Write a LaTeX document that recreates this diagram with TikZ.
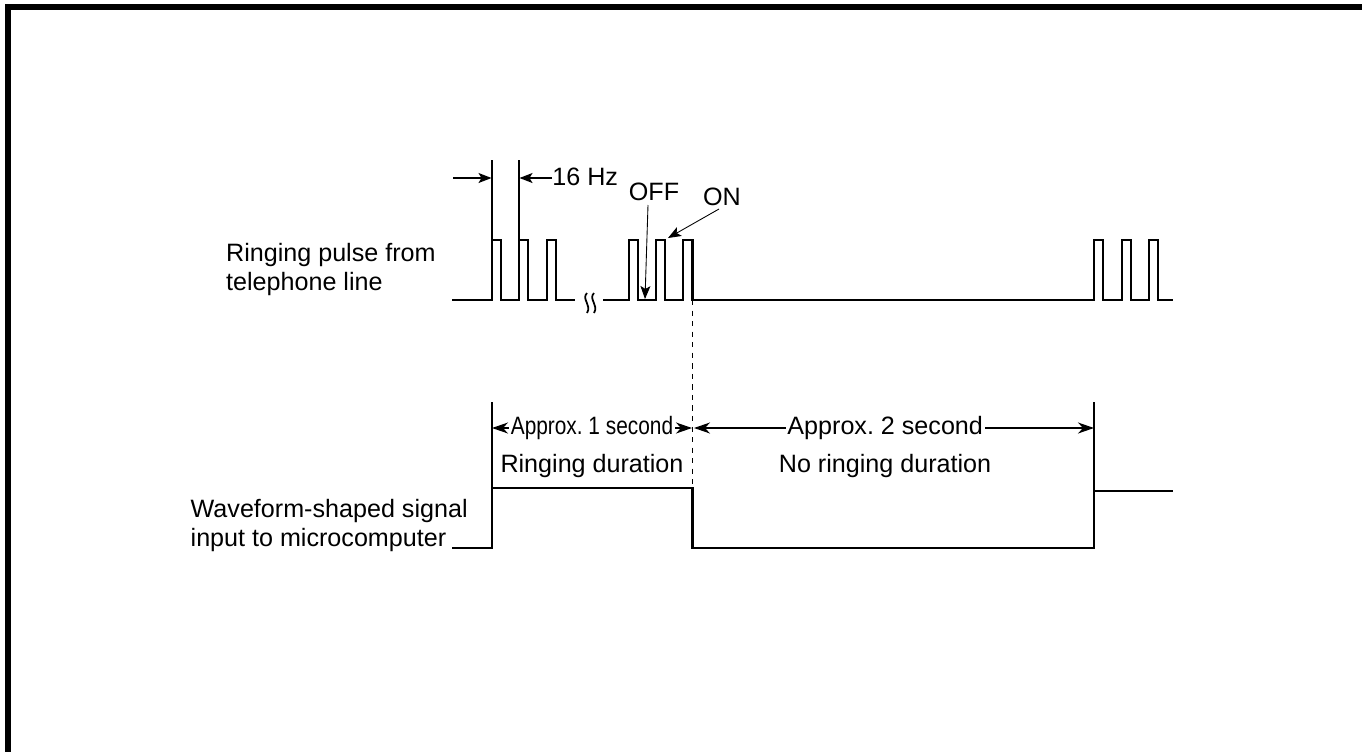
\documentclass[tikz,border=0pt]{standalone}
\usepackage{fontspec}
\setmainfont{Liberation Sans}
\usepackage{graphicx}
\usetikzlibrary{arrows.meta}
\frenchspacing

\begin{document}
\begin{tikzpicture}[x=0.02cm, y=-0.02cm,
  lbl/.style={inner sep=0pt, font=\fontsize{14.3}{16.5}\selectfont},
  wave/.style={line width=1.3pt},
  thin/.style={line width=0.6pt},
  arr/.style={-{Stealth[length=0.26cm, width=0.2cm, inset=0.06cm]}, line width=0.7pt},
  dim/.style={{Stealth[length=0.32cm, width=0.22cm, inset=0.1cm]}-{Stealth[length=0.32cm, width=0.22cm, inset=0.1cm]}, line width=0.8pt}
]
  \useasboundingbox (0,0) rectangle (1362,751);
  % frame
  \draw[line width=3.4pt] (8,760) -- (8,7) -- (1370,7);

  % labels on the left
  \node[lbl, align=left, anchor=base east] (ring) at (436,290) {Ringing pulse from\\telephone line};
  \node[lbl, align=left, anchor=base east] (wave) at (468,546) {Waveform-shaped signal\\input to microcomputer};

  % ringing pulse
  \draw[wave] (452,300) -| (492,240) -| (501,300) -| (519,240) -| (528,300) -| (547,240) -| (556,300) -- (575,300);
  \draw[wave] (603,300) -| (629,240) -| (638,300) -| (656,240) -| (665,300) -| (683,240) -| (692.5,300)
    -| (1094,240) -| (1103,300) -| (1122,240) -| (1131,300) -| (1149,240) -| (1158,300) -- (1173,300);
  % break mark
  \draw[line width=1pt] (587,293) .. controls (581,299) and (592,305) .. (587,313);
  \draw[line width=1pt] (594,293) .. controls (588,299) and (599,305) .. (594,313);

  % 16 Hz
  \coordinate (p1) at (492,240);
  \coordinate (p2) at (519,240);
  \draw[thin] (492,160) -- (p1);
  \draw[thin] (519,160) -- (p2);
  \coordinate (hzl) at (453,178);
  \node[lbl, anchor=base west] (hz) at (552,185) {16 Hz};
  \draw[arr] (hzl) -- (491.5,178);
  \draw[arr] (hz.west |- 0,178) -- (519.5,178);

  % OFF / ON
  \node[lbl, anchor=base] (off) at (654,200.5) {OFF};
  \node[lbl, anchor=base] (on)  at (722,205) {ON};
  \coordinate (offtip) at (645,299);
  \coordinate (ontip) at (668,238);
  \draw[arr, line width=0.5pt] (648,205) -- (offtip);
  \draw[arr, line width=0.5pt] (719,209) -- (ontip);

  % microcomputer signal
  \draw[wave] (452,548) -| (492,488) -| (692.5,548) -| (1094,491) -- (1173,491);
  \draw[thin, dashed] (692.5,300) -- (692.5,488);
  \draw[thin] (492,402) -- (492,488);
  \draw[thin] (1094,402) -- (1094,491);

  % durations
  \coordinate (d1) at (492,428);
  \coordinate (d2) at (692,428);
  \coordinate (d3) at (694,428);
  \coordinate (d4) at (1094,428);
  \draw[dim] (d1) -- node[lbl, fill=white, inner xsep=1pt, inner ysep=2pt] (one) {\scalebox{0.83}[1]{Approx. 1 second}} (d2);
  \draw[dim] (d3) -- node[lbl, fill=white, inner xsep=1pt, inner ysep=2pt, pos=0.478] (two) {Approx. 2 second} (d4);
  \node[lbl, anchor=base] (rd) at (592,472) {Ringing duration};
  \node[lbl, anchor=base] (nrd) at (885,472) {No ringing duration};
\end{tikzpicture}
\end{document}
